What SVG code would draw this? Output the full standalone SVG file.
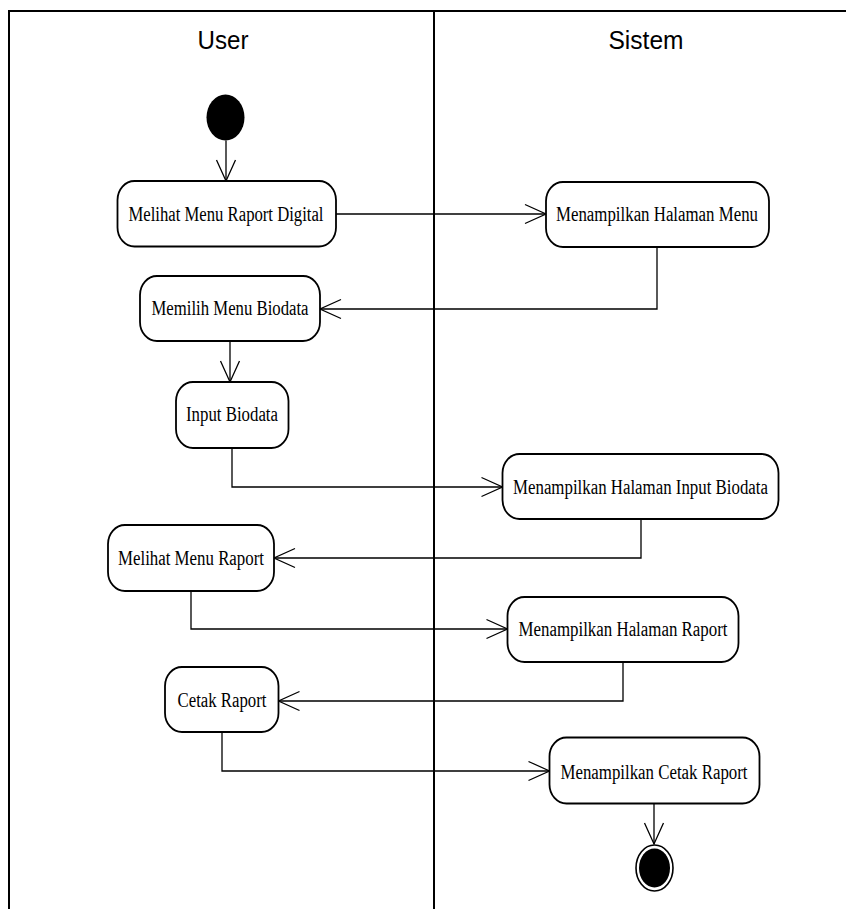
<svg xmlns="http://www.w3.org/2000/svg" width="846" height="909" viewBox="0 0 846 909">
<style>
  .frame{stroke:#000;stroke-width:2;fill:none}
  .node rect{fill:#fff;stroke:#000;stroke-width:1.8}
  .node text{font-family:"Liberation Serif","Times New Roman",serif;font-size:20px;fill:#000;text-anchor:middle}
  .hdr{font-family:"Liberation Sans",Arial,sans-serif;font-size:26px;fill:#000;text-anchor:middle}
  .conn{fill:none;stroke:#000;stroke-width:1.3}
</style>
<defs>
  <marker id="arr" markerUnits="userSpaceOnUse" viewBox="-23 -11 25 22" refX="0" refY="0" markerWidth="25" markerHeight="22" orient="auto">
    <path d="M -21 -9.5 L 0 0 L -21 9.5" fill="none" stroke="#000" stroke-width="1.3"/>
  </marker>
</defs>
<rect width="846" height="909" fill="#fff"/>
<g id="swimlanes">
  <line class="frame" x1="8" y1="11" x2="846" y2="11"/>
  <line class="frame" x1="9" y1="11" x2="9" y2="909"/>
  <line class="frame" x1="434" y1="11" x2="434" y2="909"/>
  <text class="hdr" x="223" y="49" textLength="51" lengthAdjust="spacingAndGlyphs">User</text>
  <text class="hdr" x="646" y="49" textLength="75" lengthAdjust="spacingAndGlyphs">Sistem</text>
</g>
<g id="connectors">
  <path class="conn" d="M226 140.5 L226 181" marker-end="url(#arr)"/>
  <path class="conn" d="M336 214 L546 214" marker-end="url(#arr)"/>
  <path class="conn" d="M657 247 L657 309 L320 309" marker-end="url(#arr)"/>
  <path class="conn" d="M230 341 L230 382" marker-end="url(#arr)"/>
  <path class="conn" d="M232 448 L232 487 L502.5 487" marker-end="url(#arr)"/>
  <path class="conn" d="M641 519 L641 558 L274 558" marker-end="url(#arr)"/>
  <path class="conn" d="M191 591 L191 629 L507.5 629" marker-end="url(#arr)"/>
  <path class="conn" d="M623 662 L623 701 L278.5 701" marker-end="url(#arr)"/>
  <path class="conn" d="M222 732 L222 771 L549.5 771" marker-end="url(#arr)"/>
  <path class="conn" d="M654 803.5 L654 844" marker-end="url(#arr)"/>
</g>
<g id="start">
  <ellipse cx="225.5" cy="117.5" rx="19" ry="23" fill="#000"/>
</g>
<g id="n1" class="node">
  <rect x="117.5" y="181" width="218.5" height="65.5" rx="17" ry="19"/>
  <text x="226" y="221" textLength="195" lengthAdjust="spacingAndGlyphs">Melihat Menu Raport Digital</text>
</g>
<g id="n2" class="node">
  <rect x="546" y="182" width="223" height="65" rx="17" ry="19"/>
  <text x="657" y="221" textLength="202" lengthAdjust="spacingAndGlyphs">Menampilkan Halaman Menu</text>
</g>
<g id="n3" class="node">
  <rect x="140" y="276" width="180" height="65" rx="17" ry="19"/>
  <text x="230" y="314.5" textLength="157" lengthAdjust="spacingAndGlyphs">Memilih Menu Biodata</text>
</g>
<g id="n4" class="node">
  <rect x="176" y="382" width="112.5" height="66" rx="17" ry="19"/>
  <text x="232" y="421" textLength="92" lengthAdjust="spacingAndGlyphs">Input Biodata</text>
</g>
<g id="n5" class="node">
  <rect x="502.5" y="454" width="276" height="65" rx="17" ry="19"/>
  <text x="640.5" y="493.5" textLength="255" lengthAdjust="spacingAndGlyphs">Menampilkan Halaman Input Biodata</text>
</g>
<g id="n6" class="node">
  <rect x="108" y="525" width="166" height="66" rx="17" ry="19"/>
  <text x="191" y="565" textLength="146" lengthAdjust="spacingAndGlyphs">Melihat Menu Raport</text>
</g>
<g id="n7" class="node">
  <rect x="507.5" y="597" width="231" height="65" rx="17" ry="19"/>
  <text x="623" y="635.5" textLength="209" lengthAdjust="spacingAndGlyphs">Menampilkan Halaman Raport</text>
</g>
<g id="n8" class="node">
  <rect x="165" y="667" width="113.5" height="65" rx="17" ry="19"/>
  <text x="222" y="707" textLength="89" lengthAdjust="spacingAndGlyphs">Cetak Raport</text>
</g>
<g id="n9" class="node">
  <rect x="549.5" y="737.5" width="210" height="66" rx="17" ry="19"/>
  <text x="654" y="778.5" textLength="187" lengthAdjust="spacingAndGlyphs">Menampilkan Cetak Raport</text>
</g>
<g id="end">
  <ellipse cx="654.5" cy="868" rx="18.5" ry="23" fill="#fff" stroke="#000" stroke-width="1.6"/>
  <ellipse cx="654.5" cy="868" rx="15.5" ry="19.5" fill="#000"/>
</g>
</svg>
